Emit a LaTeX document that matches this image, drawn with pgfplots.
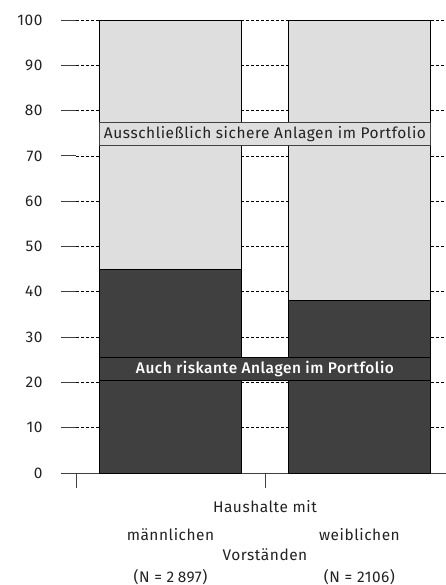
\documentclass[border=0pt]{standalone}
\usepackage{fontspec}
\setmainfont{Fira Sans}[BoldFont=Fira Sans Medium, LetterSpace=3.5]
\usepackage{pgfplots}
\usetikzlibrary{calc}
\pgfplotsset{compat=1.18}
\definecolor{lightbar}{HTML}{DEDEDE}
\definecolor{darkbar}{HTML}{404040}
\definecolor{txt}{HTML}{222222}
\newcommand{\lf}{\fontsize{15.5}{18}\selectfont}
\begin{document}
\begin{tikzpicture}[x=1bp,y=1bp]
\begin{axis}[
  at={(0,0)}, anchor=origin,
  scale only axis, width=370bp, height=453bp,
  xmin=0.5, xmax=2.458, ymin=0, ymax=100,
  ybar stacked, bar width=0.75,
  axis x line*=bottom, axis y line*=left,
  x axis line style={draw=darkbar, line width=1pt, -},
  y axis line style={draw=none},
  xtick={0.5,1.5}, xticklabels={},
  ytick={0,10,...,100},
  tick align=outside,
  major tick length=15bp,
  tick style={draw=darkbar, line width=0.8pt},
  ymajorgrids,
  major grid style={black, line width=0.6pt, dash pattern=on 3bp off 2bp},
  clip=false,
  /pgf/number format/assume math mode=true,
  yticklabel style={font=\lf, text=txt, xshift=-15bp},
]
\addplot[fill=darkbar, draw=black, line width=0.8pt] coordinates {(1,45) (2,38)};
\addplot[fill=lightbar, draw=black, line width=0.8pt] coordinates {(1,55) (2,62)};
\coordinate (A1) at (axis cs:0.625,72.4);
\coordinate (A2) at (axis cs:2.375,77.3);
\coordinate (B1) at (axis cs:0.625,20.5);
\coordinate (B2) at (axis cs:2.375,25.6);
\coordinate (C) at (axis cs:1.5,0);
\coordinate (M) at (axis cs:1,0);
\coordinate (W) at (axis cs:2,0);
\end{axis}
\draw[fill=lightbar, draw=darkbar, line width=0.8pt] (A1) rectangle (A2);
\node[text=txt, font=\lf, inner sep=0pt] at ($(A1)!0.5!(A2)$) {Ausschließlich sichere Anlagen im Portfolio};
\draw[fill=darkbar, draw=black, line width=0.8pt] (B1) rectangle (B2);
\node[text=white, font=\lf\bfseries, inner sep=0pt] at ($(B1)!0.5!(B2)$) {Auch riskante Anlagen im Portfolio};
\node[font=\lf, text=txt, anchor=base, inner sep=0pt, yshift=-39bp] at (C) {Haushalte mit};
\node[font=\lf, text=txt, anchor=base, inner sep=0pt, yshift=-87bp] at (C) {Vorständen};
\node[font=\lf, text=txt, anchor=base, inner sep=0pt, yshift=-67bp] at (M) {männlichen};
\node[font=\lf, text=txt, anchor=base, inner sep=0pt, yshift=-67bp] at (W) {weiblichen};
\node[font=\lf, text=txt, anchor=base, inner sep=0pt, yshift=-109bp] at (M) {(N = 2\hspace{3.5bp}897)};
\node[font=\lf, text=txt, anchor=base, inner sep=0pt, yshift=-109bp] at (W) {(N = 2106)};
\pgfresetboundingbox
\path[use as bounding box] (-76bp,-112bp) rectangle (370bp,473bp);
\end{tikzpicture}
\end{document}
